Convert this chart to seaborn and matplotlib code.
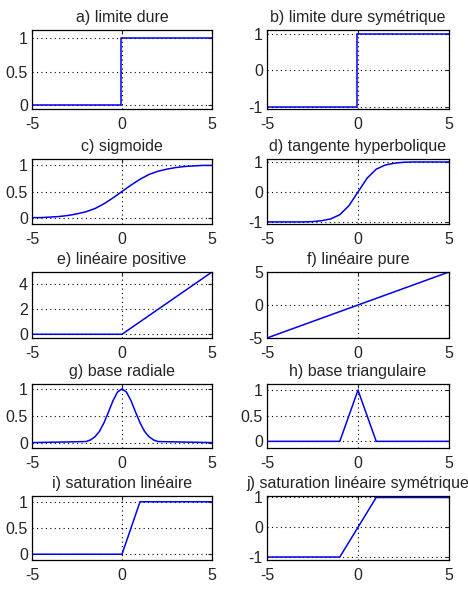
import matplotlib
matplotlib.use("Agg")
import matplotlib.pyplot as plt
import numpy as np
import pandas as pd
import seaborn as sns

# values
titles = ["a) limite dure", "b) limite dure symétrique",
          "c) sigmoide", "d) tangente hyperbolique",
          "e) linéaire positive", "f) linéaire pure",
          "g) base radiale", "h) base triangulaire",
          "i) saturation linéaire", "j) saturation linéaire symétrique"]

hard_x = [-5, -0.05, -0.05, 5]
hard_y = [0, 0, 1, 1]
hard_sym_y = [-1, -1, 1, 1]

sig_x = [-5, -4.5, -4, -3.5, -3, -2.5, -2, -1.5, -1, -0.5, 0,
         0.5, 1, 1.5, 2, 2.5, 3, 3.5, 4, 4.5, 5]
sig_y = [0.01, 0.01, 0.02, 0.03, 0.05, 0.08, 0.12, 0.18, 0.27, 0.38, 0.5,
         0.62, 0.73, 0.82, 0.88, 0.92, 0.95, 0.97, 0.98, 0.99, 0.99]

tanh_x = [-5, -3, -2.5, -2, -1.5, -1, -0.5, 0, 0.5, 1, 1.5, 2, 2.5, 3, 5]
tanh_y = [-1, -1, -0.99, -0.96, -0.9, -0.76, -0.46, 0,
          0.46, 0.76, 0.9, 0.96, 0.99, 1, 1]

pos_x = [-5, 0, 5]
pos_y = [0, 0, 5]

pure_x = [-5, 5]
pure_y = [-5, 5]

rad_x = [-5, -2, -1.75, -1.5, -1.25, -1, -0.75, -0.5, -0.25, 0,
         0.25, 0.5, 0.75, 1, 1.25, 1.5, 1.75, 2, 5]
rad_y = [0, 0.02, 0.05, 0.11, 0.21, 0.37, 0.57, 0.78, 0.94, 1,
         0.94, 0.78, 0.57, 0.37, 0.21, 0.11, 0.05, 0.02, 0]

tri_x = [-5, -1, 0, 1, 5]
tri_y = [0, 0, 1, 0, 0]

sat_x = [-5, 0, 1, 5]
sat_y = [0, 0, 1, 1]

satsym_x = [-5, -1, 1, 5]
satsym_y = [-1, -1, 1, 1]

curves = [(hard_x, hard_y), (hard_x, hard_sym_y),
          (sig_x, sig_y), (tanh_x, tanh_y),
          (pos_x, pos_y), (pure_x, pure_y),
          (rad_x, rad_y), (tri_x, tri_y),
          (sat_x, sat_y), (satsym_x, satsym_y)]

yticks = [[0, 0.5, 1], [-1, 0, 1],
          [0, 0.5, 1], [-1, 0, 1],
          [0, 2, 4], [-5, 0, 5],
          [0, 0.5, 1], [0, 0.5, 1],
          [0, 0.5, 1], [-1, 0, 1]]
yticklabels = [["0", "0.5", "1"], ["-1", "0", "1"],
               ["0", "0.5", "1"], ["-1", "0", "1"],
               ["0", "2", "4"], ["-5", "0", "5"],
               ["0", "0.5", "1"], ["0", "0.5", "1"],
               ["0", "0.5", "1"], ["-1", "0", "1"]]
ylims = [(-0.06, 1.12), (-1.05, 1.1),
         (-0.11, 1.11), (-1.07, 1.1),
         (-0.3, 5), (-5, 5),
         (-0.1, 1.09), (-0.13, 1.12),
         (-0.11, 1.11), (-1.1, 1.05)]

sns.set_style("white")
plt.rcParams['font.family'] = ['Liberation Sans', 'DejaVu Sans']

W, H = 468, 592
fig = plt.figure(figsize=(W / 100, H / 100), dpi=100)

# pixel boxes (left, right) per column and (top, bottom) per row
cols = [(32, 212), (267, 449)]
rows = [(30, 109), (159, 224), (272, 338), (384, 448), (496, 560)]

for i, (title, (xs, ys)) in enumerate(zip(titles, curves)):
    r, c = divmod(i, 2)
    l, rr = cols[c]
    t, b = rows[r]
    ax = fig.add_axes([l / W, 1 - b / H, (rr - l) / W, (b - t) / H])
    df = pd.DataFrame({"x": xs, "y": ys})
    sns.lineplot(data=df, x="x", y="y", ax=ax, sort=False, estimator=None,
                 color="#0000ee", lw=1.1)
    ax.set_xlim(-5, 5)
    ax.set_ylim(*ylims[i])
    ax.set_xticks([-5, 0, 5])
    ax.set_xticklabels(["-5", "0", "5"])
    ax.set_yticks(yticks[i])
    ax.set_yticklabels(yticklabels[i])
    ax.set_xlabel("")
    ax.set_ylabel("")
    ax.grid(True, ls=(0, (1, 3)), color="black", lw=0.8)
    ax.tick_params(direction="in", length=3, width=0.8, labelsize=11.5,
                   pad=3, top=True, right=True)
    ax.tick_params(axis="x", pad=6)
    for s in ax.spines.values():
        s.set_color("black")
        s.set_linewidth(0.9)
    ax.set_title(title, fontsize=11.5, pad=6)

fig.savefig("out.png", dpi=100, facecolor="white")
